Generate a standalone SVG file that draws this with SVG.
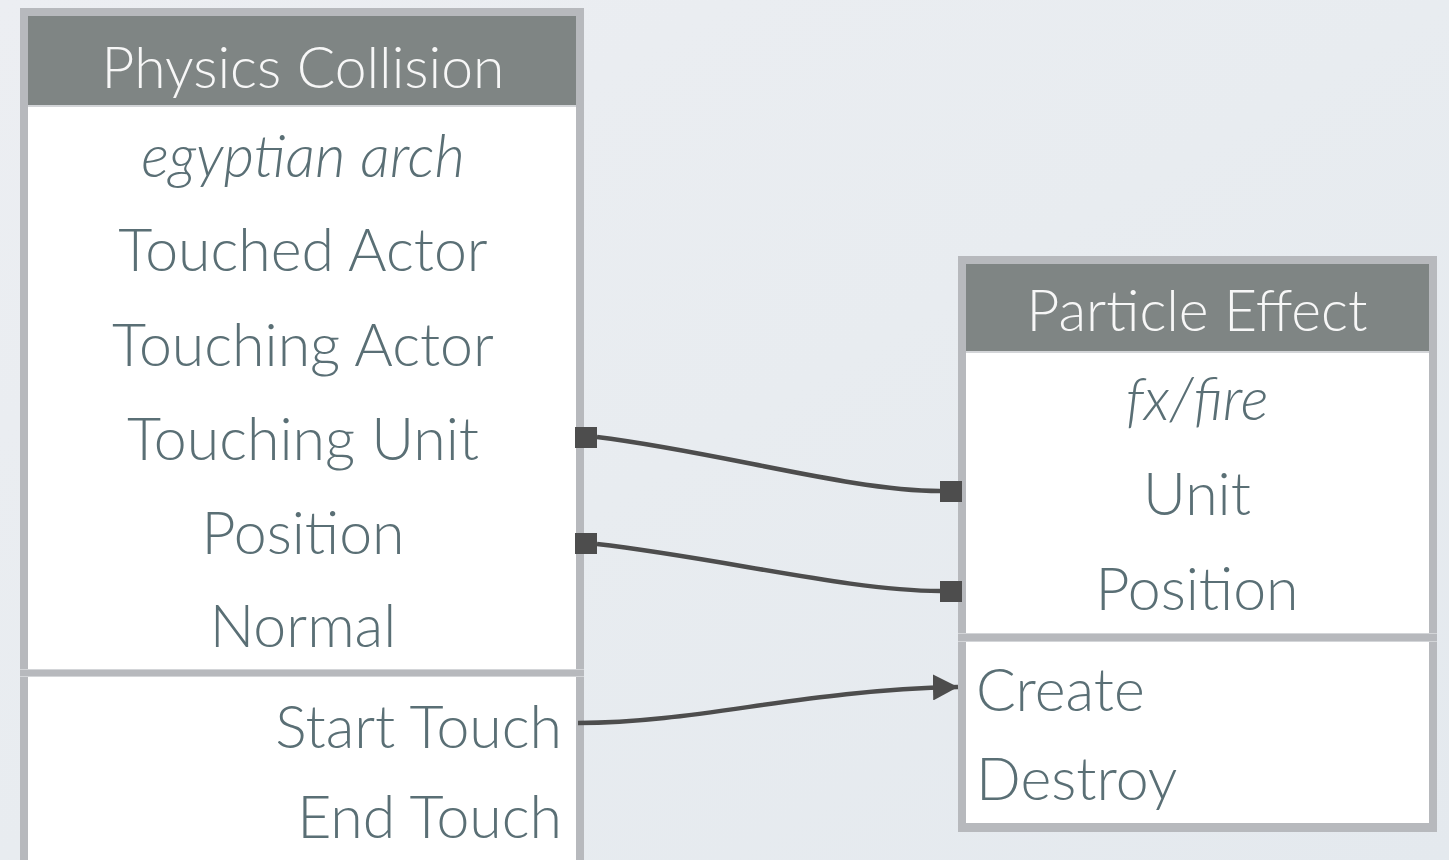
<svg xmlns="http://www.w3.org/2000/svg" width="1449" height="860" viewBox="0 0 1449 860">
  <defs>
    <linearGradient id="bg" x1="0" y1="0" x2="1" y2="1">
      <stop offset="0" stop-color="#eceef2"/>
      <stop offset="0.5" stop-color="#e8ecf0"/>
      <stop offset="1" stop-color="#e4e9ee"/>
    </linearGradient>
    <marker id="arrow" viewBox="0 0 25 26" refX="25" refY="13" markerWidth="25" markerHeight="26" markerUnits="userSpaceOnUse" orient="auto">
      <path d="M0,0 L25,13 L0,26 Z" fill="#4d4d4d"/>
    </marker>
    <style>
      .frame { fill: #b7b9bd; }
      .head { fill: #7f8584; }
      .seam { fill: #d3d5d8; }
      .panel { fill: #ffffff; }
      .title { font-family: Lato, "Open Sans", sans-serif; font-weight: 300; font-size: 57px; fill: #f7f7f7; text-anchor: middle; }
      .row { font-family: Lato, "Open Sans", sans-serif; font-weight: 300; font-size: 59px; fill: #5a6f75; }
      .mid { text-anchor: middle; }
      .end { text-anchor: end; }
      .it { font-style: italic; }
      .wire { fill: none; stroke: #4d4d4d; stroke-width: 4.5; }
      .pin { fill: #4d4d4d; }
    </style>
  </defs>

  <rect width="1449" height="860" fill="url(#bg)"/>

  <!-- Physics Collision node -->
  <g id="node-physics-collision">
    <rect class="frame" x="20" y="8" width="564" height="870"/>
    <rect class="head" x="28" y="16" width="548" height="89"/>
    <rect class="seam" x="28" y="105" width="548" height="2"/>
    <rect class="panel" x="28" y="107" width="548" height="562"/>
    <rect class="seam" x="20" y="669" width="564" height="1"/>
    <rect class="seam" x="20" y="676" width="564" height="1"/>
    <rect class="panel" x="28" y="677" width="548" height="200"/>
    <text class="title" x="303" y="88">Physics Collision</text>
    <text class="row mid it" x="303" y="177">egyptian arch</text>
    <text class="row mid" x="303" y="271">Touched Actor</text>
    <text class="row mid" x="303" y="366">Touching Actor</text>
    <text class="row mid" x="303" y="460">Touching Unit</text>
    <text class="row mid" x="303" y="554">Position</text>
    <text class="row mid" x="303" y="647">Normal</text>
    <text class="row end" x="562" y="748">Start Touch</text>
    <text class="row end" x="562" y="838">End Touch</text>
  </g>

  <!-- Particle Effect node -->
  <g id="node-particle-effect">
    <rect class="frame" x="958" y="256" width="479" height="576"/>
    <rect class="head" x="966" y="264" width="463" height="87"/>
    <rect class="seam" x="966" y="351" width="463" height="2"/>
    <rect class="panel" x="966" y="353" width="463" height="280"/>
    <rect class="seam" x="958" y="633" width="479" height="1"/>
    <rect class="seam" x="958" y="641" width="479" height="1"/>
    <rect class="panel" x="966" y="642" width="463" height="181"/>
    <text class="title" x="1197" y="331">Particle Effect</text>
    <text class="row mid it" x="1197" y="420">fx/fire</text>
    <text class="row mid" x="1197" y="515">Unit</text>
    <text class="row mid" x="1197" y="610">Position</text>
    <text class="row" x="976" y="711">Create</text>
    <text class="row" x="976" y="800">Destroy</text>
  </g>

  <!-- Connectors -->
  <g id="connectors">
    <path class="wire" d="M597,437 C720,452 850,491 940,491"/>
    <rect class="pin" x="575" y="427" width="22" height="21"/>
    <rect class="pin" x="940" y="481" width="22" height="21"/>

    <path class="wire" d="M597,544 C720,558 850,591 940,591"/>
    <rect class="pin" x="575" y="533" width="22" height="21"/>
    <rect class="pin" x="940" y="581" width="22" height="21"/>

    <path class="wire" d="M578,723 C700,723 800,690 958,687" marker-end="url(#arrow)"/>
  </g>
</svg>
